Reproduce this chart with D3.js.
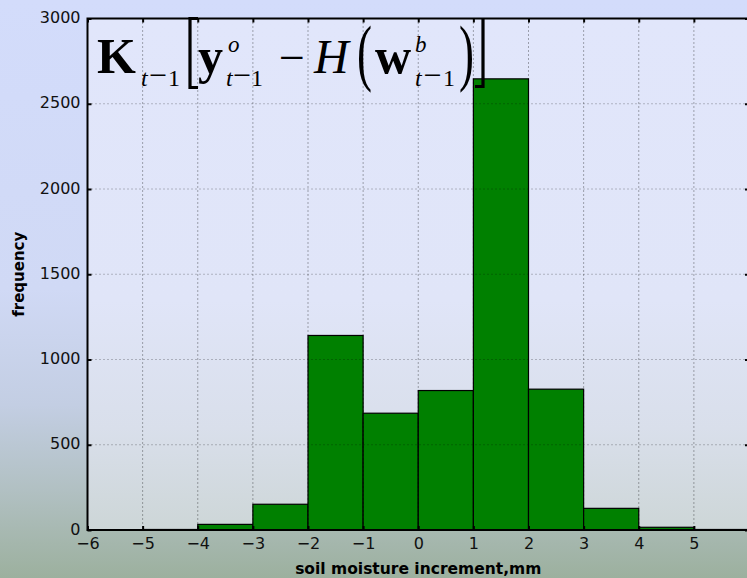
<!DOCTYPE html>
<html>
<head>
<meta charset="utf-8">
<script src="https://cdn.jsdelivr.net/npm/d3@7"></script>
<style>
  body { margin: 0; overflow: hidden; }
  svg { display: block; }
</style>
</head>
<body>
<svg id="chart" width="747" height="578"></svg>
<script>
// DATA
const binEdges = [-6, -5, -4, -3, -2, -1, 0, 1, 2, 3, 4, 5, 6];
const binCounts = [2, 3, 33, 151, 1141, 685, 818, 2646, 826, 127, 16, 3];
const xTicks = [-6, -5, -4, -3, -2, -1, 0, 1, 2, 3, 4, 5];
const yTicks = [0, 500, 1000, 1500, 2000, 2500, 3000];
const xLabel = 'soil moisture increment,mm';
const yLabel = 'frequency';

const bins = binCounts.map((c, i) => ({ x0: binEdges[i], x1: binEdges[i + 1], count: c }));

//SETUP
const svg = d3.select('#chart');
const width = +svg.attr('width');
const height = +svg.attr('height');

const padding = { top: 18.5, left: 87.5, right: 749, bottom: 530 };

const defs = svg.append('defs');

const figGrad = defs.append('linearGradient')
  .attr('id', 'figGrad').attr('x1', 0).attr('y1', 0).attr('x2', 0).attr('y2', 1);
[[0, '#d3dcfb'], [0.5, '#d0d9f5'], [0.7, '#c3cee3'], [0.85, '#b1c0c2'], [1, '#9cb09e']]
  .forEach(([o, c]) => figGrad.append('stop').attr('offset', o).attr('stop-color', c));

const axGrad = defs.append('linearGradient')
  .attr('id', 'axGrad').attr('x1', 0).attr('y1', 0).attr('x2', 0).attr('y2', 1);
[[0, '#e1e6fb'], [0.55, '#e0e5f8'], [0.8, '#d9dfeb'], [1, '#cdd6d7']]
  .forEach(([o, c]) => axGrad.append('stop').attr('offset', o).attr('stop-color', c));

svg.append('rect')
  .attr('width', width).attr('height', height)
  .attr('fill', 'url(#figGrad)');

svg.append('rect')
  .attr('x', padding.left).attr('y', padding.top)
  .attr('width', padding.right - padding.left)
  .attr('height', padding.bottom - padding.top)
  .attr('fill', 'url(#axGrad)');

//SCALE
const xScale = d3.scaleLinear().domain([-6, 6]).range([padding.left, padding.right]);
const yScale = d3.scaleLinear().domain([0, 3000]).range([padding.bottom, padding.top]);

//BARS
svg.append('g')
  .selectAll('rect')
  .data(bins)
  .join('rect')
  .attr('x', (d) => xScale(d.x0))
  .attr('y', (d) => yScale(d.count))
  .attr('width', (d) => xScale(d.x1) - xScale(d.x0))
  .attr('height', (d) => yScale(0) - yScale(d.count))
  .attr('fill', '#008000')
  .attr('stroke', '#000')
  .attr('stroke-width', 1.2);

//GRID
const grid = svg.append('g');
grid.selectAll('.vgrid')
  .data(xTicks.filter((t) => t > -6))
  .join('line')
  .attr('x1', (d) => xScale(d)).attr('x2', (d) => xScale(d))
  .attr('y1', padding.top).attr('y2', padding.bottom)
  .attr('stroke', '#000').attr('stroke-opacity', 0.7)
  .attr('stroke-width', 0.9).attr('stroke-dasharray', '1,3');
grid.selectAll('.hgrid')
  .data(yTicks.filter((t) => t > 0 && t < 3000))
  .join('line')
  .attr('x1', padding.left).attr('x2', padding.right)
  .attr('y1', (d) => yScale(d)).attr('y2', (d) => yScale(d))
  .attr('stroke', '#000').attr('stroke-opacity', 0.5)
  .attr('stroke-width', 0.9).attr('stroke-dasharray', '1,3');

//AXIS
const fmt = (d) => (d < 0 ? '\u2212' + Math.abs(d) : String(d));

const xAxis = svg.append('g')
  .attr('transform', `translate(0,${padding.bottom})`)
  .call(d3.axisBottom(xScale).tickValues(xTicks).tickFormat(fmt).tickSize(-4).tickPadding(8));
const yAxis = svg.append('g')
  .attr('transform', `translate(${padding.left},0)`)
  .call(d3.axisLeft(yScale).tickValues(yTicks).tickFormat(fmt).tickSize(-4).tickPadding(7));
const topAxis = svg.append('g')
  .attr('transform', `translate(0,${padding.top})`)
  .call(d3.axisTop(xScale).tickValues(xTicks).tickFormat('').tickSize(-4));
const rightAxis = svg.append('g')
  .attr('transform', `translate(${padding.right},0)`)
  .call(d3.axisRight(yScale).tickValues(yTicks).tickFormat('').tickSize(-4));

[xAxis, yAxis, topAxis, rightAxis].forEach((a) => {
  a.select('.domain').remove();
  a.selectAll('line').attr('stroke', '#000').attr('stroke-width', 2);
  a.selectAll('text')
    .attr('fill', '#111')
    .style('font-family', 'DejaVu Sans')
    .style('font-size', '16px');
});
yAxis.selectAll('text').attr('dy', '0.25em');

//FRAME
svg.append('rect')
  .attr('x', padding.left).attr('y', padding.top)
  .attr('width', padding.right - padding.left)
  .attr('height', padding.bottom - padding.top)
  .attr('fill', 'none').attr('stroke', '#000').attr('stroke-width', 2);

//LABELS
svg.append('text')
  .attr('x', (padding.left + padding.right) / 2)
  .attr('y', 574)
  .attr('text-anchor', 'middle')
  .style('font-family', 'DejaVu Sans')
  .style('font-weight', 'bold')
  .style('font-size', '15.5px')
  .text(xLabel);

svg.append('text')
  .attr('transform', `translate(24,${(padding.top + padding.bottom) / 2}) rotate(-90)`)
  .attr('text-anchor', 'middle')
  .style('font-family', 'DejaVu Sans')
  .style('font-weight', 'bold')
  .style('font-size', '15px')
  .text(yLabel);

//FORMULA
const formula = svg.append('g')
  .style('font-family', "'Liberation Serif', 'DejaVu Serif', serif")
  .attr('fill', '#000');

function glyph(str, x, y, size, opts = {}) {
  return formula.append('text')
    .attr('x', x).attr('y', y)
    .attr('fill', '#000')
    .style('font-size', size + 'px')
    .style('font-weight', opts.bold ? 'bold' : 'normal')
    .style('font-style', opts.italic ? 'italic' : 'normal')
    .text(str);
}

function subT(x, len) {
  const t = formula.append('text')
    .attr('x', x).attr('y', 86)
    .attr('fill', '#000')
    .style('font-size', '24px')
    .attr('textLength', len).attr('lengthAdjust', 'spacing');
  t.append('tspan').style('font-style', 'italic').text('t');
  t.append('tspan').style('font-size', '32px').text('\u2212');
  t.append('tspan').text('1');
}

glyph('K', 97, 73, 50, { bold: true });
subT(141, 39);

formula.append('path')
  .attr('d', 'M198,18.5H190V87.5H198')
  .attr('fill', 'none').attr('stroke', '#000').attr('stroke-width', 3.2);

glyph('y', 198, 73, 50, { bold: true });
glyph('o', 228, 52, 23, { italic: true });
subT(226, 37);

glyph('\u2212', 279, 73, 46);
glyph('H', 314, 73, 48, { italic: true });

formula.append('text')
  .attr('transform', 'translate(357,76.5) scale(0.6,1)')
  .attr('fill', '#000')
  .style('font-size', '75px')
  .text('(');

glyph('w', 375, 73, 50, { bold: true });
glyph('b', 415, 52, 23, { italic: true });
subT(415, 40);

formula.append('text')
  .attr('transform', 'translate(459,76.5) scale(0.6,1)')
  .attr('fill', '#000')
  .style('font-size', '75px')
  .text(')');

formula.append('path')
  .attr('d', 'M475,86.5H483V18.5')
  .attr('fill', 'none').attr('stroke', '#000').attr('stroke-width', 3.2);
</script>
</body>
</html>
